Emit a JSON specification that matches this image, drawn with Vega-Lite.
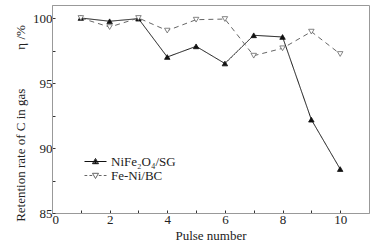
{
  "$schema": "https://vega.github.io/schema/vega-lite/v6.json",
  "width": 317,
  "height": 208,
  "autosize": {"type": "none"},
  "padding": {"left": 52, "top": 5, "right": 5, "bottom": 35},
  "background": "white",
  "config": {
    "font": "Liberation Serif",
    "view": {"stroke": "#999999", "strokeWidth": 1},
    "axis": {
      "domainColor": "#999999",
      "tickColor": "#333333",
      "grid": false,
      "labelFont": "Liberation Serif",
      "titleFont": "Liberation Serif",
      "labelFontSize": 13,
      "titleFontSize": 13,
      "titleFontWeight": "normal",
      "labelColor": "#222222",
      "titleColor": "#222222",
      "tickSize": -3,
      "labelPadding": 3
    }
  },
  "data": {
    "values": [
      {"pulse": 1, "series": "NiFe2O4/SG", "eta": 100.0},
      {"pulse": 2, "series": "NiFe2O4/SG", "eta": 99.75},
      {"pulse": 3, "series": "NiFe2O4/SG", "eta": 99.95},
      {"pulse": 4, "series": "NiFe2O4/SG", "eta": 97.0},
      {"pulse": 5, "series": "NiFe2O4/SG", "eta": 97.82},
      {"pulse": 6, "series": "NiFe2O4/SG", "eta": 96.5},
      {"pulse": 7, "series": "NiFe2O4/SG", "eta": 98.67},
      {"pulse": 8, "series": "NiFe2O4/SG", "eta": 98.54},
      {"pulse": 9, "series": "NiFe2O4/SG", "eta": 92.18},
      {"pulse": 10, "series": "NiFe2O4/SG", "eta": 88.38},
      {"pulse": 1, "series": "Fe-Ni/BC", "eta": 100.0},
      {"pulse": 2, "series": "Fe-Ni/BC", "eta": 99.3},
      {"pulse": 3, "series": "Fe-Ni/BC", "eta": 100.0},
      {"pulse": 4, "series": "Fe-Ni/BC", "eta": 99.03},
      {"pulse": 5, "series": "Fe-Ni/BC", "eta": 99.87},
      {"pulse": 6, "series": "Fe-Ni/BC", "eta": 99.92},
      {"pulse": 7, "series": "Fe-Ni/BC", "eta": 97.1},
      {"pulse": 8, "series": "Fe-Ni/BC", "eta": 97.67},
      {"pulse": 9, "series": "Fe-Ni/BC", "eta": 98.95},
      {"pulse": 10, "series": "Fe-Ni/BC", "eta": 97.23}
    ]
  },
  "encoding": {
    "x": {
      "field": "pulse",
      "type": "quantitative",
      "scale": {"domain": [0, 11], "nice": false, "zero": false},
      "axis": {
        "title": "Pulse number",
        "values": [0, 1, 2, 3, 4, 5, 6, 7, 8, 9, 10],
        "labelExpr": "datum.value % 2 === 0 ? datum.label : ''",
        "titlePadding": 3
      }
    },
    "y": {
      "field": "eta",
      "type": "quantitative",
      "scale": {"domain": [85, 101], "nice": false, "zero": false},
      "axis": {
        "title": "Retention rate of C in gas\u2003\u2003\u2003η /%",
        "values": [85, 87.5, 90, 92.5, 95, 97.5, 100],
        "labelExpr": "datum.value % 5 === 0 ? datum.label : ''",
        "titlePadding": 5,
        "titleY": 118
      }
    }
  },
  "layer": [
    {
      "mark": {"type": "line", "strokeWidth": 1},
      "encoding": {
        "detail": {"field": "series"},
        "stroke": {
          "field": "series",
          "scale": {"domain": ["NiFe2O4/SG", "Fe-Ni/BC"], "range": ["#111111", "#666666"]},
          "legend": null
        },
        "strokeDash": {
          "field": "series",
          "scale": {"domain": ["NiFe2O4/SG", "Fe-Ni/BC"], "range": [[1, 0], [5, 4]]},
          "legend": null
        }
      }
    },
    {
      "mark": {"type": "point", "size": 30, "strokeWidth": 0.8, "opacity": 1},
      "encoding": {
        "shape": {
          "field": "series",
          "scale": {"domain": ["NiFe2O4/SG", "Fe-Ni/BC"], "range": ["triangle-up", "triangle-down"]},
          "legend": null
        },
        "fill": {
          "field": "series",
          "scale": {"domain": ["NiFe2O4/SG", "Fe-Ni/BC"], "range": ["#111111", "#ffffff"]},
          "legend": null
        },
        "stroke": {
          "field": "series",
          "scale": {"domain": ["NiFe2O4/SG", "Fe-Ni/BC"], "range": ["#111111", "#666666"]},
          "legend": null
        }
      }
    },
    {
      "mark": {"type": "point", "size": 121, "strokeWidth": 1, "opacity": 0, "filled": true},
      "encoding": {
        "shape": {
          "field": "series",
          "scale": {
            "domain": ["NiFe2O4/SG", "Fe-Ni/BC"],
            "range": [
              "M-2,0H2M0,-0.55L0.55,0.4L-0.55,0.4ZM0,-0.35V0.4M-0.25,0.1H0.25M-0.4,0.3H0.4",
              "M-2,0H-1.5M-1.1,0H-0.6M0.6,0H1.1M1.5,0H2M-0.55,-0.4L0.55,-0.4L0,0.55Z"
            ]
          },
          "legend": {
            "title": null,
            "orient": "none",
            "legendX": 37,
            "legendY": 150,
            "labelFont": "Liberation Serif",
            "labelFontSize": 13,
            "labelColor": "#222222",
            "rowPadding": 0,
            "labelOffset": 9,
            "symbolSize": 121,
            "symbolStrokeWidth": 1,
            "labelExpr": "datum.label === 'NiFe2O4/SG' ? 'NiFe₂O₄/SG' : datum.label",
            "encode": {
              "symbols": {
                "update": {
                  "opacity": {"value": 1},
                  "fillOpacity": {"value": 1},
                  "fill": {"signal": "datum.value === 'NiFe2O4/SG' ? '#111111' : '#ffffff'"},
                  "stroke": {"signal": "datum.value === 'NiFe2O4/SG' ? '#111111' : '#666666'"}
                }
              }
            }
          }
        },
        "fill": {
          "field": "series",
          "scale": {"domain": ["NiFe2O4/SG", "Fe-Ni/BC"], "range": ["#111111", "#ffffff"]},
          "legend": null
        },
        "stroke": {
          "field": "series",
          "scale": {"domain": ["NiFe2O4/SG", "Fe-Ni/BC"], "range": ["#111111", "#666666"]},
          "legend": null
        }
      }
    }
  ],
  "resolve": {
    "scale": {"shape": "independent", "fill": "independent", "stroke": "independent", "strokeDash": "independent"},
    "legend": {"shape": "independent", "fill": "independent", "stroke": "independent", "strokeDash": "independent"}
  }
}
